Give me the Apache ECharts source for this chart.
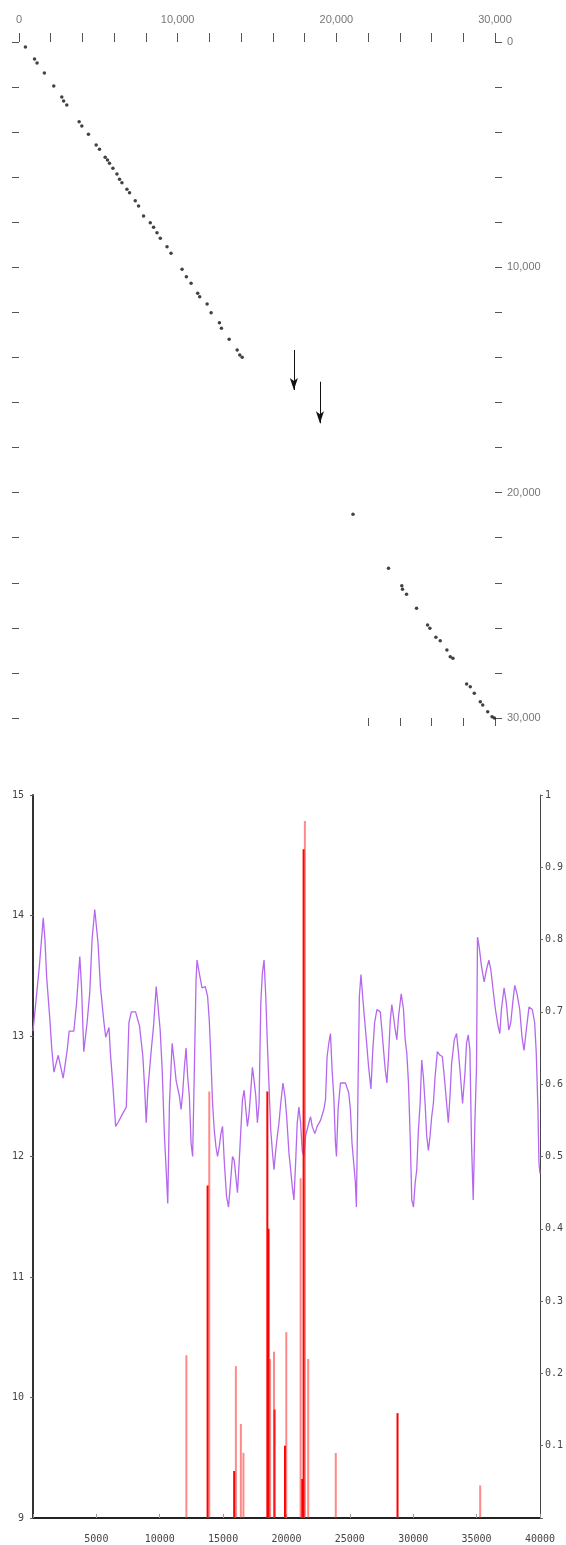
<!DOCTYPE html>
<html><head><meta charset="utf-8">
<script src="https://cdn.jsdelivr.net/npm/echarts@6/dist/echarts.min.js"></script>
<style>html,body{margin:0;padding:0;background:#fff}#c{width:566px;height:1545px}</style>
</head><body><div id="c"></div>
<script>
// ---- top panel: dot plot (x and y in bp) ----
const dotX = [404,979,1137,1598,2192,2697,2811,3013,3790,3960,4377,4863,5072,5432,5577,5703,5918,6171,6335,6487,6802,6967,7327,7535,7851,8274,8482,8697,8906,9329,9581,10276,10548,10845,11262,11388,11855,12108,12632,12758,13245,13750,13914,14066,
  21052,23287,24127,24171,24424,25055,25750,25896,26275,26546,26969,27178,27348,28213,28441,28694,29073,29225,29541,29813,29958];
const dotY = [222,754,932,1376,1953,2441,2618,2796,3537,3728,4096,4571,4762,5117,5237,5383,5605,5858,6093,6244,6537,6688,7043,7278,7722,8020,8224,8463,8712,9085,9378,10088,10416,10709,11153,11304,11628,12014,12457,12706,13194,13669,13891,13993,
  20961,23357,24129,24289,24511,25132,25874,26020,26420,26570,26983,27280,27351,28492,28612,28905,29278,29424,29722,29944,30000];
// arrows (x position, start y, end y)
const arrowX  = [17325, 18967];
const arrowY0 = [13669, 15076];
const arrowY1 = [15444, 16922];
// ticks drawn on the lower edge of the dot plot
const bottomTicks = [22000, 24000, 26000, 28000, 30000];

// ---- bottom panel: purple line (left axis 9..15) ----
const lineX = [0,495,809,943,1077,1336,1470,1650,1988,2381,2695,2853,3222,3434,3693,3827,4008,4267,4479,4660,4872,5132,5320,5580,5737,5996,6106,6310,6523,6703,7096,7363,7568,7756,8094,8409,8668,8802,8935,9061,9328,9509,9721,9847,10035,10192,10373,10507,10633,10766,10978,11159,11293,11552,11686,11811,11945,12079,12204,12338,12472,12597,12731,12864,12943,13124,13336,13595,13776,13909,14043,14169,14302,14436,14562,14695,14829,14955,15088,15269,15426,15560,15741,15874,16008,16134,16267,16401,16527,16660,16794,16919,17053,17187,17313,17446,17580,17706,17839,17973,18098,18232,18366,18491,18625,18759,18884,19018,19152,19277,19411,19545,19725,19882,20016,20196,20330,20456,20589,20723,20849,20982,21116,21242,21375,21509,21635,21768,21902,22028,22240,22421,22687,22947,23080,23206,23340,23473,23599,23733,23866,23945,24071,24260,24653,24911,25045,25171,25304,25438,25517,25643,25753,25878,26012,26146,26303,26484,26665,26798,26955,27136,27403,27529,27662,27796,27922,28055,28189,28315,28448,28582,28708,28841,28975,29054,29234,29368,29494,29627,29761,29887,30020,30154,30280,30412,30546,30672,30805,30939,31065,31198,31332,31458,31591,31725,31906,32118,32298,32455,32589,32770,32903,33029,33241,33422,33556,33689,33894,34082,34208,34342,34475,34601,34735,34868,34994,35073,35206,35387,35599,35780,35969,36126,36307,36488,36700,36833,36959,37171,37352,37540,37697,37878,38012,38193,38405,38586,38743,38924,39136,39395,39584,39710,39843,39922,40000];
const lineY = [13.04,13.57,13.98,13.80,13.49,13.13,12.91,12.70,12.84,12.65,12.88,13.04,13.04,13.27,13.66,13.41,12.87,13.11,13.36,13.80,14.05,13.77,13.41,13.13,12.99,13.07,12.86,12.58,12.25,12.28,12.36,12.41,13.11,13.20,13.20,13.08,12.83,12.58,12.28,12.55,12.88,13.08,13.41,13.27,13.05,12.72,12.17,11.89,11.61,12.44,12.94,12.77,12.63,12.50,12.39,12.53,12.74,12.90,12.66,12.50,12.11,12.00,12.72,13.46,13.63,13.52,13.40,13.41,13.33,13.13,12.80,12.44,12.22,12.08,12.00,12.08,12.19,12.25,11.97,11.67,11.58,11.75,12.00,11.97,11.83,11.70,11.95,12.22,12.47,12.55,12.39,12.25,12.36,12.55,12.74,12.63,12.50,12.28,12.44,13.27,13.52,13.63,13.33,12.94,12.58,12.22,12.05,11.89,12.05,12.17,12.28,12.44,12.61,12.50,12.33,12.03,11.89,11.75,11.64,11.95,12.28,12.41,12.28,12.05,12.00,12.17,12.17,12.28,12.33,12.25,12.19,12.25,12.30,12.39,12.47,12.83,12.94,13.02,12.72,12.50,12.11,12.00,12.39,12.61,12.61,12.53,12.39,12.11,11.95,11.78,11.58,12.55,13.33,13.51,13.33,13.16,12.97,12.74,12.56,12.86,13.11,13.22,13.20,13.05,12.88,12.72,12.61,12.83,13.13,13.26,13.16,13.05,12.97,13.16,13.28,13.35,13.22,12.97,12.86,12.61,12.17,11.64,11.58,11.78,11.89,12.22,12.44,12.80,12.66,12.44,12.17,12.05,12.17,12.33,12.44,12.66,12.87,12.84,12.83,12.66,12.50,12.28,12.50,12.77,12.97,13.02,12.88,12.72,12.44,12.69,12.94,13.01,12.88,12.11,11.64,12.28,12.74,13.82,13.74,13.58,13.45,13.55,13.63,13.55,13.38,13.22,13.08,13.02,13.22,13.40,13.27,13.05,13.11,13.30,13.42,13.35,13.22,12.99,12.88,13.05,13.24,13.22,13.11,12.86,12.39,11.95,11.86];

// ---- bottom panel: red bars (right axis 0..1) ----
const darkBarX = [13776,15874,18491,18585,19057,19882,21242,21352,28762];
const darkBarV = [0.46,0.065,0.59,0.40,0.15,0.10,0.054,0.925,0.145];
const lightBarX = [12102,13909,16008,16401,16605,18703,19018,19984,21116,21454,21713,23890,35285];
const lightBarV = [0.225,0.59,0.21,0.13,0.09,0.22,0.23,0.257,0.47,0.964,0.22,0.09,0.045];

const chart = echarts.init(document.getElementById('c'));
const topFont = {fontFamily:'"Liberation Sans Narrow","Liberation Sans",sans-serif', fontSize:11, color:'#777'};
const botFont = {fontFamily:'"DejaVu Sans Mono",monospace', fontSize:10, color:'#444'};
const topFmt = v => (v % 10000 === 0 ? v.toLocaleString('en-US') : '');
const tickStyle = {color:'#555', width:1};
const hiddenLine = {show:true, onZero:false, lineStyle:{color:'#fff', opacity:0, width:0}};
const RED = '#ff0000', LIGHT = 'rgba(255,40,40,0.55)';

const barData = darkBarX.map((x,i)=>({value:[x,darkBarV[i]], itemStyle:{color:RED}}))
  .concat(lightBarX.map((x,i)=>({value:[x,lightBarV[i]], itemStyle:{color:LIGHT}})));

chart.setOption({
  animation:false,
  backgroundColor:'#fff',
  grid:[{left:19,right:71,top:42,bottom:827},{left:33,right:24,top:795,bottom:27}],
  xAxis:[
    {gridIndex:0,type:'value',position:'top',min:0,max:30000,interval:2000,
     axisLine:hiddenLine,axisTick:{show:true,length:9,lineStyle:tickStyle},
     axisLabel:{formatter:topFmt,margin:17,...topFont},splitLine:{show:false}},
    {gridIndex:0,type:'value',position:'bottom',min:0,max:30000,interval:2000,
     axisLine:hiddenLine,axisTick:{show:true,length:8,customValues:bottomTicks,lineStyle:tickStyle},
     axisLabel:{show:false},splitLine:{show:false}},
    {gridIndex:1,type:'value',min:0,max:40000,interval:5000,
     axisLine:{show:true,onZero:false,lineStyle:{color:'#222',width:2}},
     axisTick:{show:true,inside:true,length:4,lineStyle:{color:'#999'}},
     axisLabel:{formatter:v=>v===0?'':String(v),margin:16,...botFont},splitLine:{show:false}}
  ],
  yAxis:[
    {gridIndex:0,type:'value',inverse:true,position:'left',min:0,max:30000,interval:2000,
     axisLine:hiddenLine,axisTick:{show:true,length:7,lineStyle:tickStyle},
     axisLabel:{show:false},splitLine:{show:false}},
    {gridIndex:0,type:'value',inverse:true,position:'right',min:0,max:30000,interval:2000,
     axisLine:hiddenLine,axisTick:{show:true,length:7,lineStyle:tickStyle},
     axisLabel:{formatter:topFmt,margin:12,...topFont},splitLine:{show:false}},
    {gridIndex:1,type:'value',position:'left',min:9,max:15,interval:1,
     axisLine:{show:true,onZero:false,lineStyle:{color:'#333',width:2}},
     axisTick:{show:true,length:3,lineStyle:{color:'#666'}},
     axisLabel:{margin:9,...botFont},splitLine:{show:false}},
    {gridIndex:1,type:'value',position:'right',min:0,max:1,interval:0.1,
     axisLine:{show:true,onZero:false,lineStyle:{color:'#444',width:1}},
     axisTick:{show:true,length:3,lineStyle:{color:'#666'}},
     axisLabel:{formatter:v=>v===0?'':String(Math.round(v*10)/10),margin:5,...botFont},splitLine:{show:false}}
  ],
  series:[
    {type:'scatter',xAxisIndex:0,yAxisIndex:0,symbol:'circle',symbolSize:3.5,
     itemStyle:{color:'#111'},data:dotX.map((x,i)=>[x,dotY[i]]),silent:true},
    {type:'scatter',xAxisIndex:0,yAxisIndex:0,data:[],silent:true,
     markLine:{silent:true,symbol:['none','arrow'],symbolSize:[6,12],label:{show:false},
       lineStyle:{color:'#111',width:1,type:'solid'},
       data:arrowX.map((x,i)=>[{coord:[x,arrowY0[i]]},{coord:[x,arrowY1[i]]}])}},
    {type:'line',xAxisIndex:2,yAxisIndex:2,showSymbol:false,z:2,
     lineStyle:{color:'#b568ee',width:1.3},data:lineX.map((x,i)=>[x,lineY[i]]),silent:true},
    {type:'bar',xAxisIndex:2,yAxisIndex:3,barWidth:2,z:3,data:barData,silent:true}
  ]
});
</script></body></html>
